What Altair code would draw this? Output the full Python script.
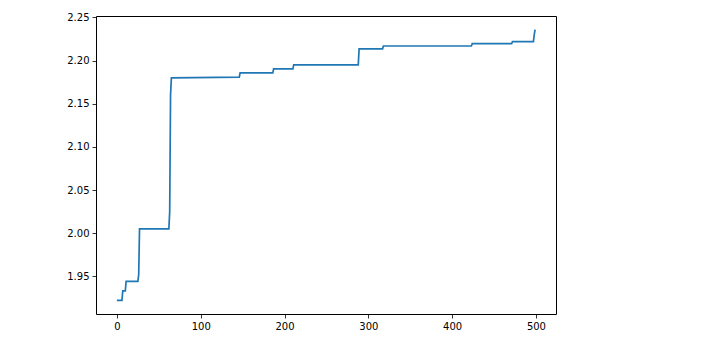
import altair as alt
import pandas as pd

# breakpoints of the stepped series (index, value)
x_vals = [0, 6, 7, 10, 11, 25, 26, 27, 62, 63, 64, 65, 146, 147, 186, 187, 210, 211,
          288, 289, 317, 318, 423, 424, 471, 472, 497, 498, 499]
y_vals = [1.922, 1.922, 1.933, 1.933, 1.944, 1.944, 1.952, 2.005, 2.005, 2.025, 2.160, 2.180,
          2.1808, 2.1858, 2.1858, 2.1904, 2.1904, 2.195,
          2.195, 2.2135, 2.2135, 2.2169, 2.2169, 2.2196, 2.2196, 2.2220, 2.2220, 2.2300, 2.2360]

x_ticks = [0, 100, 200, 300, 400, 500]
y_ticks = [1.95, 2.00, 2.05, 2.10, 2.15, 2.20, 2.25]

df = pd.DataFrame({"x": x_vals, "y": y_vals})

xmin, xmax = min(x_vals), max(x_vals)
ymin, ymax = min(y_vals), max(y_vals)
xm = (xmax - xmin) * 0.05
ym = (ymax - ymin) * 0.05

axis_common = dict(
    grid=False, domain=False, tickColor="black", tickSize=4, tickWidth=0.8,
    labelFont="DejaVu Sans", labelFontSize=10, labelColor="black", title=None,
    labelPadding=3,
)

chart = alt.Chart(df).mark_line(color="#1f77b4", strokeWidth=1.7, clip=True).encode(
    x=alt.X("x:Q", scale=alt.Scale(domain=[xmin - xm, xmax + xm], nice=False, zero=False),
            axis=alt.Axis(values=x_ticks, format="d", **axis_common)),
    y=alt.Y("y:Q", scale=alt.Scale(domain=[ymin - ym, ymax + ym], nice=False, zero=False),
            axis=alt.Axis(values=y_ticks, format=".2f", **axis_common)),
).properties(
    width=460, height=298,
    autosize=alt.AutoSizeParams(type="none"),
    padding={"left": 96, "top": 16, "right": 151, "bottom": 29},
    background="white",
).configure_view(
    stroke="black", strokeWidth=1,
)

chart.save("out.html", embed_options={"renderer": "svg", "actions": False})
